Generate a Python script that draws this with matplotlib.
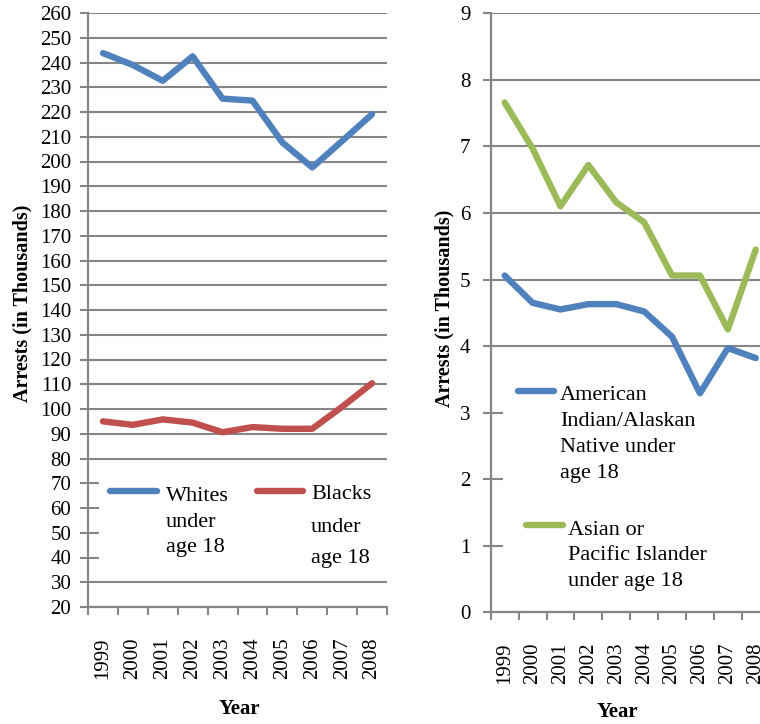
import matplotlib
matplotlib.use('Agg')
import matplotlib.pyplot as plt
from matplotlib.patches import Rectangle
from matplotlib.lines import Line2D
from matplotlib.ticker import FixedLocator, MultipleLocator

# ---------------- data ----------------
years = ['1999', '2000', '2001', '2002', '2003', '2004', '2005', '2006', '2007', '2008']
whites = [243.8, 239.0, 232.6, 242.5, 225.4, 224.6, 207.7, 197.6, 208.3, 219.1]
blacks = [95.0, 93.6, 95.8, 94.5, 90.6, 92.7, 92.0, 92.0, 100.9, 110.4]
ai_an = [5.06, 4.65, 4.55, 4.63, 4.63, 4.52, 4.14, 3.29, 3.97, 3.82]
asian = [7.66, 6.97, 6.10, 6.72, 6.16, 5.86, 5.06, 5.06, 4.25, 5.45]

left_labels = ['Whites\nunder\nage 18', 'Blacks\nunder\nage 18']
right_labels = ['American\nIndian/Alaskan\nNative under\nage 18',
                'Asian or\nPacific Islander\nunder age 18']
ylabel = 'Arrests (in Thousands)'
xlabel = 'Year'

BLUE = '#4F81BD'
RED = '#C0504D'
GREEN = '#9BBB59'
GRID = '#868686'
SERIF = 'Liberation Serif'

plt.rcParams['font.family'] = SERIF

W, H = 760, 724
fig = plt.figure(figsize=(W / 100, H / 100), dpi=100)


def fx(x):
    return x / W


def fy(y):
    return 1 - y / H


ax1 = fig.add_axes([fx(88), fy(607), (387 - 88) / W, (607 - 13) / H])
ax2 = fig.add_axes([fx(490.7), fy(612.3), 279 / W, 599 / H])


def style(ax, ymin, ymax, step, ypad):
    x = list(range(len(years)))
    ax.set_xlim(-0.5, len(years) - 0.5)
    ax.set_ylim(ymin, ymax)
    ax.yaxis.set_major_locator(MultipleLocator(step))
    for s in ['top', 'right']:
        ax.spines[s].set_visible(False)
    for s in ['left', 'bottom']:
        ax.spines[s].set_color(GRID)
        ax.spines[s].set_linewidth(1.6)
    ax.set_axisbelow(True)
    ax.yaxis.grid(True, color=GRID, linewidth=1.5)
    ax.set_xticks(x)
    ax.set_xticklabels(years, rotation=90, fontsize=15)
    ax.xaxis.set_minor_locator(FixedLocator([i - 0.5 for i in range(len(years) + 1)]))
    ax.tick_params(axis='x', which='major', length=0, pad=22)
    ax.tick_params(axis='x', which='minor', length=5.5, width=1.5, color=GRID, direction='out')
    ax.tick_params(axis='y', which='major', length=5.5, width=1.5, color=GRID,
                   direction='out', labelsize=15, pad=ypad)
    return x


x1 = style(ax1, 20, 260, 10, 6.5)
x2 = style(ax2, 0, 9, 1, 9)

lw = 4.6
ax1.plot(x1, whites, color=BLUE, lw=lw, solid_capstyle='round', solid_joinstyle='round', zorder=3)
ax1.plot(x1, blacks, color=RED, lw=lw, solid_capstyle='round', solid_joinstyle='round', zorder=3)
ax2.plot(x2, ai_an, color=BLUE, lw=lw, solid_capstyle='round', solid_joinstyle='round', zorder=3)
ax2.plot(x2, asian, color=GREEN, lw=lw, solid_capstyle='round', solid_joinstyle='round', zorder=3)

# ---------------- legends (manual, Excel style) ----------------
ax1.add_patch(Rectangle((fx(99), fy(579)), (387 - 99) / W, (579 - 463) / H,
                        transform=fig.transFigure, facecolor='white', edgecolor='none',
                        zorder=1.5, clip_on=False))
ax2.add_patch(Rectangle((fx(503), fy(598)), (800 - 503) / W, (598 - 368) / H,
                        transform=fig.transFigure, facecolor='white', edgecolor='none',
                        zorder=1.5, clip_on=False))


def handle(ax, x0, x1_, y, color):
    ax.add_line(Line2D([fx(x0), fx(x1_)], [fy(y), fy(y)], transform=fig.transFigure,
                       color=color, lw=lw, solid_capstyle='round', zorder=4, clip_on=False))


def label(x, baselines, text):
    for b, line in zip(baselines, text.split('\n')):
        fig.text(fx(x), fy(b), line, fontsize=16, ha='left', va='baseline')


handle(ax1, 110, 157, 490.7, BLUE)
label(166, [500.7, 526.7, 552.3], left_labels[0])
handle(ax1, 257, 303, 491, RED)
label(311, [499.3, 531.7, 563.3], left_labels[1])

handle(ax2, 518, 554, 391, BLUE)
label(560, [400, 426, 452.3, 478.3], right_labels[0])
handle(ax2, 526, 563, 525, GREEN)
label(568, [535, 560.5, 586], right_labels[1])

# ---------------- axis titles ----------------
fig.text(fx(22), fy(303), ylabel, rotation=90, ha='center', va='center',
         fontsize=14.5, fontweight='bold')
fig.text(fx(444), fy(308), ylabel, rotation=90, ha='center', va='center',
         fontsize=14.5, fontweight='bold')
fig.text(fx(239), fy(709), xlabel, ha='center', va='center', fontsize=15, fontweight='bold')
fig.text(fx(617), fy(712), xlabel, ha='center', va='center', fontsize=15, fontweight='bold')

fig.savefig('out.png', dpi=100, facecolor='white')
